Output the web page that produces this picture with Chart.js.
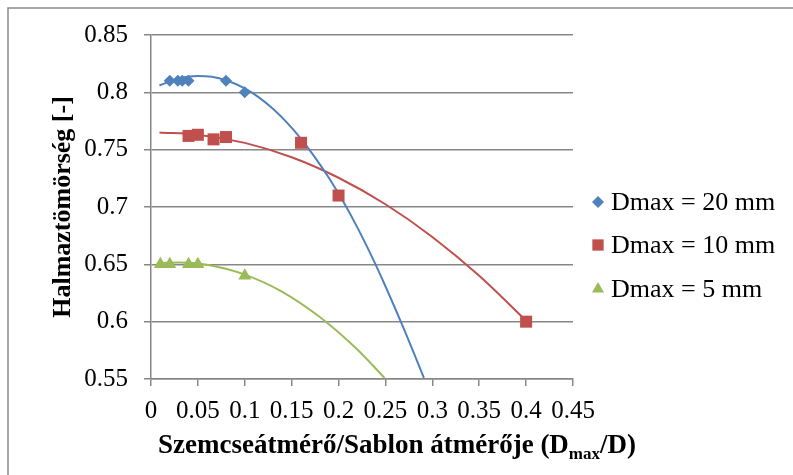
<!DOCTYPE html>
<html><head><meta charset="utf-8">
<script src="https://cdn.jsdelivr.net/npm/chart.js@4.4.1/dist/chart.umd.min.js"></script>
<style>html,body{margin:0;padding:0;background:#fff}#wrap{position:relative;width:793px;height:475px}</style>
</head><body><div id="wrap"><canvas id="c" width="793" height="475"></canvas></div>
<script>
// measured points
const d20X = [0.02, 0.0286, 0.0333, 0.04, 0.08, 0.1];
const d20Y = [0.81, 0.81, 0.81, 0.81, 0.81, 0.80];
const d10X = [0.04, 0.05, 0.0667, 0.08, 0.16, 0.2, 0.4];
const d10Y = [0.762, 0.763, 0.759, 0.761, 0.756, 0.71, 0.60];
const d5X = [0.01, 0.02, 0.04, 0.05, 0.1];
const d5Y = [0.65, 0.65, 0.65, 0.65, 0.64];
// trendlines
const trend20X = [0.009, 0.03, 0.05, 0.065, 0.08, 0.1, 0.115, 0.13, 0.145, 0.16, 0.175, 0.19, 0.205, 0.22, 0.235, 0.25, 0.27, 0.291];
const trend20Y = [0.806, 0.8122, 0.8143, 0.8135, 0.8105, 0.8034, 0.7956, 0.7856, 0.7736, 0.7595, 0.7431, 0.725, 0.7047, 0.6822, 0.6576, 0.6309, 0.593, 0.551];
const trend10X = [0.009, 0.05, 0.1, 0.15, 0.2, 0.25, 0.3, 0.35, 0.4];
const trend10Y = [0.765, 0.7631, 0.7559, 0.7434, 0.7255, 0.7024, 0.6739, 0.640, 0.6008];
const trend5X = [0.01, 0.03, 0.06, 0.1, 0.14, 0.18, 0.22, 0.249];
const trend5Y = [0.651, 0.6517, 0.6496, 0.641, 0.626, 0.604, 0.5757, 0.551];
const seriesNames = ['Dmax = 20 mm', 'Dmax = 10 mm', 'Dmax = 5 mm'];
const xTitleMain = 'Szemcseátmérő/Sablon átmérője (D';
const xTitleSub = 'max';
const xTitleEnd = '/D)';
const yTitle = 'Halmaztömörség [-]';

const BLUE = '#4F81BD', RED = '#C0504D', GREEN = '#9BBB59';
const GRID = '#878787';
const SERIF = '"Liberation Serif", "Times New Roman", serif';

const pts = (xs, ys) => xs.map((x, i) => ({x, y: ys[i]}));
const fmt = v => String(Number(Number(v).toFixed(4)));

function trend(xs, ys, color) {
  return {type: 'line', data: pts(xs, ys), borderColor: color, borderWidth: 2, pointRadius: 0,
    cubicInterpolationMode: 'monotone', fill: false, order: 2};
}
function marks(xs, ys, color, style, r, name) {
  return {type: 'scatter', label: name, data: pts(xs, ys), backgroundColor: color, borderColor: color,
    borderWidth: 0, pointStyle: style, pointRadius: r, pointHoverRadius: r, showLine: false, order: 1};
}

function drawMarker(ctx, style, x, y, r, color) {
  ctx.save(); ctx.fillStyle = color; ctx.beginPath();
  if (style === 'rectRot') {
    ctx.moveTo(x, y - r); ctx.lineTo(x + r, y); ctx.lineTo(x, y + r); ctx.lineTo(x - r, y);
  } else if (style === 'rect') {
    const s = r * Math.SQRT1_2; ctx.rect(x - s, y - s, 2 * s, 2 * s);
  } else {
    ctx.moveTo(x, y - r); ctx.lineTo(x + r * Math.sqrt(3) / 2, y + r / 2); ctx.lineTo(x - r * Math.sqrt(3) / 2, y + r / 2);
  }
  ctx.closePath(); ctx.fill(); ctx.restore();
}

const overlay = {
  id: 'overlay',
  beforeDraw(chart) {
    const ctx = chart.ctx;
    ctx.save();
    ctx.fillStyle = '#fff'; ctx.fillRect(0, 0, chart.width, chart.height);
    ctx.strokeStyle = '#8a8a8a'; ctx.lineWidth = 1.5;
    ctx.beginPath(); ctx.moveTo(8, chart.height); ctx.lineTo(8, 8); ctx.lineTo(chart.width, 8); ctx.stroke();
    ctx.restore();
  },
  afterDraw(chart) {
    const ctx = chart.ctx, ca = chart.chartArea;
    ctx.save();
    ctx.fillStyle = '#000';
    // y title
    ctx.save();
    ctx.translate(63, (ca.top + ca.bottom) / 2);
    ctx.rotate(-Math.PI / 2);
    ctx.font = 'bold 26px ' + SERIF; ctx.textAlign = 'center'; ctx.textBaseline = 'middle';
    ctx.fillText(yTitle, 0, 0);
    ctx.restore();
    // x title with subscript
    const base = 453;
    let x = 158;
    ctx.textAlign = 'left'; ctx.textBaseline = 'alphabetic';
    ctx.font = 'bold 27px ' + SERIF; ctx.fillText(xTitleMain, x, base); x += ctx.measureText(xTitleMain).width;
    ctx.font = 'bold 17px ' + SERIF; ctx.fillText(xTitleSub, x, base + 6); x += ctx.measureText(xTitleSub).width;
    ctx.font = 'bold 27px ' + SERIF; ctx.fillText(xTitleEnd, x, base);
    // legend
    const styles = [['rectRot', 6, BLUE], ['rect', 8, RED], ['triangle', 7, GREEN]];
    const ys = [202, 245, 289];
    ctx.font = '26px ' + SERIF; ctx.textBaseline = 'middle';
    seriesNames.forEach((n, i) => {
      drawMarker(ctx, styles[i][0], 598, ys[i], styles[i][1], styles[i][2]);
      ctx.fillStyle = '#000';
      ctx.fillText(n, 611, ys[i] + 1);
    });
    ctx.restore();
  }
};

new Chart(document.getElementById('c'), {
  data: {
    datasets: [
      trend(trend20X, trend20Y, BLUE),
      trend(trend10X, trend10Y, RED),
      trend(trend5X, trend5Y, GREEN),
      marks(d20X, d20Y, BLUE, 'rectRot', 6, seriesNames[0]),
      marks(d10X, d10Y, RED, 'rect', 8.5, seriesNames[1]),
      marks(d5X, d5Y, GREEN, 'triangle', 7.5, seriesNames[2])
    ]
  },
  options: {
    responsive: false, animation: false, devicePixelRatio: 1,
    layout: {padding: {left: 0, top: 35, right: 220, bottom: 0}},
    plugins: {legend: {display: false}, tooltip: {enabled: false}},
    scales: {
      x: {
        type: 'linear', min: 0, max: 0.45,
        afterFit: s => { s.height = 96; },
        ticks: {stepSize: 0.05, callback: fmt, color: '#000', font: {family: SERIF, size: 25}, padding: 10, maxRotation: 0, autoSkip: false},
        grid: {display: true, drawOnChartArea: false, drawTicks: true, tickLength: 7, color: GRID, lineWidth: 1.5},
        border: {display: true, color: GRID, width: 1.5}
      },
      y: {
        type: 'linear', min: 0.55, max: 0.85,
        afterFit: s => { s.width = 151; },
        ticks: {stepSize: 0.05, callback: fmt, color: '#000', font: {family: SERIF, size: 25}, padding: 16},
        grid: {display: true, drawOnChartArea: true, drawTicks: true, tickLength: 7, color: GRID, lineWidth: 1.5},
        border: {display: true, color: GRID, width: 1.5}
      }
    }
  },
  plugins: [overlay]
});
</script>
</body></html>
